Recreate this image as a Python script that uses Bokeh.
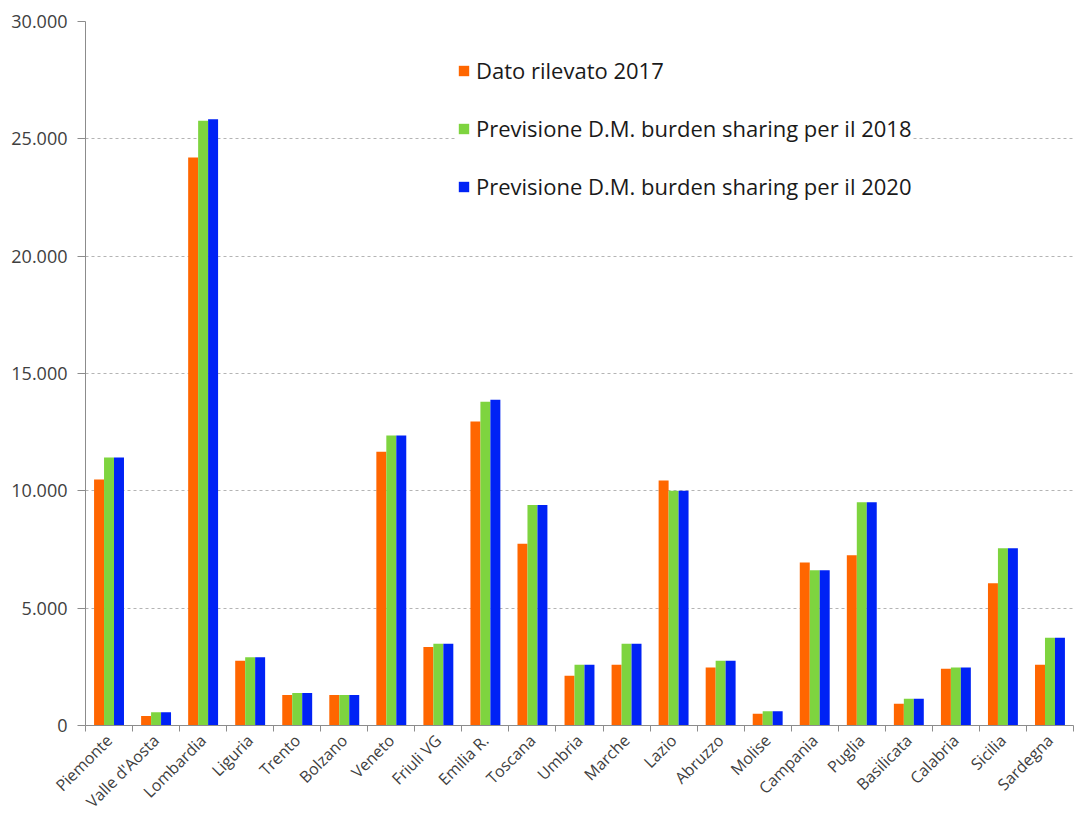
import math
from bokeh.plotting import figure
from bokeh.models import Range1d, FixedTicker, Legend, LegendItem
from bokeh.embed import file_html
from bokeh.resources import INLINE

regions = ["Piemonte", "Valle d'Aosta", "Lombardia", "Liguria", "Trento", "Bolzano",
           "Veneto", "Friuli VG", "Emilia R.", "Toscana", "Umbria", "Marche", "Lazio",
           "Abruzzo", "Molise", "Campania", "Puglia", "Basilicata", "Calabria", "Sicilia",
           "Sardegna"]
dato_2017 = [10480, 410, 24200, 2755, 1305, 1300, 11670, 3350, 12950, 7740, 2115,
             2585, 10440, 2470, 500, 6945, 7255, 925, 2415, 6065, 2585]
prev_2018 = [11420, 565, 25775, 2910, 1390, 1300, 12355, 3480, 13800, 9400, 2585,
             3480, 10000, 2755, 610, 6615, 9515, 1135, 2470, 7555, 3735]
prev_2020 = [11420, 565, 25830, 2910, 1390, 1300, 12355, 3480, 13885, 9400, 2585,
             3480, 10000, 2755, 610, 6615, 9515, 1135, 2470, 7555, 3735]
series_names = ["Dato rilevato 2017",
                "Previsione D.M. burden sharing per il 2018",
                "Previsione D.M. burden sharing per il 2020"]
y_ticks = [0, 5000, 10000, 15000, 20000, 25000, 30000]
y_tick_labels = ["0", "5.000", "10.000", "15.000", "20.000", "25.000", "30.000"]

colors = ["#FF6600", "#7ED43F", "#0022F5"]
FONT = "Open Sans"

n = len(regions)
p = figure(frame_width=988, frame_height=704, output_backend="svg", toolbar_location=None,
           x_range=Range1d(-0.5, n - 0.5), y_range=Range1d(0, 30000),
           min_border_left=85, min_border_right=2, min_border_top=21,
           min_border_bottom=88)
p.outline_line_color = None
p.background_fill_color = "white"
p.border_fill_color = "white"

bw = 0.212
renderers = []
for k, (vals, col) in enumerate(zip([dato_2017, prev_2018, prev_2020], colors)):
    xs = [i + (k - 1) * bw for i in range(n)]
    r = p.vbar(x=xs, top=vals, width=bw, bottom=0, fill_color=col, line_color=None)
    renderers.append(r)

# x axis
p.xaxis.ticker = FixedTicker(ticks=list(range(n)),
                             minor_ticks=[i - 0.5 for i in range(n + 1)])
p.xaxis.major_label_overrides = {i: regions[i] for i in range(n)}
p.xaxis.major_label_orientation = math.pi / 4
p.xaxis.major_tick_line_color = None
p.xaxis.minor_tick_line_color = "#8c8c8c"
p.xaxis.minor_tick_out = 6
p.xaxis.minor_tick_in = 0
p.xaxis.axis_line_color = "#8c8c8c"
p.xaxis.major_label_text_font = FONT
p.xaxis.major_label_text_font_size = "16px"
p.xaxis.major_label_text_color = "#404040"
p.xaxis.major_label_standoff = 6

# y axis
p.yaxis.ticker = FixedTicker(ticks=y_ticks)
p.yaxis.major_label_overrides = {t: l for t, l in zip(y_ticks, y_tick_labels)}
p.yaxis.major_tick_out = 8
p.yaxis.major_tick_in = 0
p.yaxis.major_tick_line_color = "#8c8c8c"
p.yaxis.minor_tick_line_color = None
p.yaxis.axis_line_color = "#8c8c8c"
p.yaxis.major_label_text_font = FONT
p.yaxis.major_label_text_font_size = "18px"
p.yaxis.major_label_text_color = "#404040"
p.yaxis.major_label_standoff = 10

p.xgrid.grid_line_color = None
p.ygrid.grid_line_color = "#b4b4b4"
p.ygrid.grid_line_dash = "3 3"

legend = Legend(items=[LegendItem(label=nm, renderers=[r]) for nm, r in zip(series_names, renderers)],
                location=(372, 524), orientation="vertical",
                padding=34, spacing=28, glyph_width=13, glyph_height=13,
                label_height=20, label_standoff=6, margin=0,
                border_line_color=None, background_fill_color="white",
                background_fill_alpha=1.0,
                label_text_font=FONT, label_text_font_size="22px",
                label_text_color="#1a1a1a")
p.add_layout(legend, "center")

open("out.html", "w").write(file_html(p, INLINE))
